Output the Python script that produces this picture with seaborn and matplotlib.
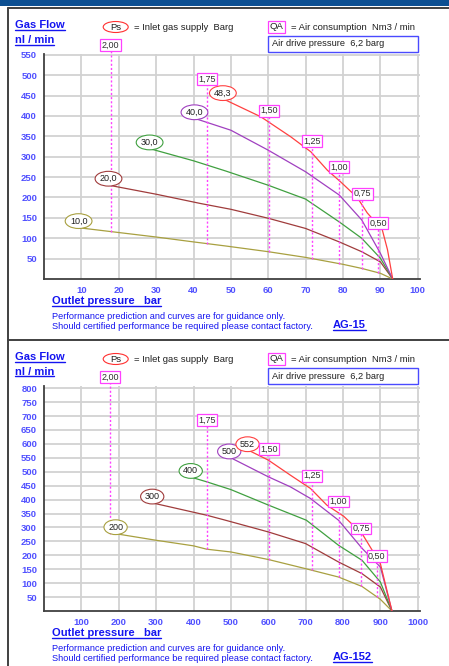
import numpy as np
import pandas as pd
import matplotlib
matplotlib.use("Agg")
import matplotlib.pyplot as plt
from matplotlib.lines import Line2D
from matplotlib.patches import Rectangle, Ellipse
import seaborn as sns

W, H = 449, 666

# curve colours, lowest inlet pressure first
curve_colors = ["#a8a040", "#a03c3c", "#40a040", "#a040c0", "#ff4040"]

# AG-15 : outlet pressure (bar) vs gas flow (nl/min), one curve per Ps
ag15_ps = ["10,0", "20,0", "30,0", "40,0", "48,3"]
ag15_x = [
    [10, 20, 30, 40, 48.6, 60, 70, 80, 85, 90, 93.3],
    [18, 30, 42, 50, 60, 70, 79, 85, 90, 93.3],
    [29, 40, 48.6, 60, 70, 79, 85, 90, 93.3],
    [41, 50, 60, 70, 79, 85, 90, 93.3],
    [48.6, 58, 66, 71.4, 75.8, 79.4, 83.8, 86.5, 90.5, 91.9, 93.3],
]
ag15_y = [
    [125, 114, 103, 91, 81, 67, 53, 36, 26, 14, 0],
    [229, 208, 185, 171, 149, 124, 91, 67, 42, 0],
    [318, 290, 265, 230, 196, 140, 100, 51, 0],
    [392, 365, 316, 263, 206, 145, 63, 0],
    [439, 398, 349, 312, 267, 238, 200, 162, 121, 72, 0],
]
ag15_qa = ["2,00", "1,75", "1,50", "1,25", "1,00", "0,75", "0,50"]
ag15_qa_x = [17.8, 43.7, 60.2, 71.7, 79.0, 85.2, 89.4]
ag15_qa_y = [574, 491, 413, 339, 274, 209, 137]

# AG-152 : outlet pressure (bar) vs gas flow (nl/min)
ag152_ps = ["200", "300", "400", "500", "552"]
ag152_x = [
    [199, 300, 400, 435, 500, 600, 700, 788, 851, 900, 931],
    [297, 435, 480, 600, 700, 788, 851, 900, 931],
    [400, 435, 500, 601, 702, 788, 851, 900, 931],
    [503, 600, 659, 713, 788, 851, 900, 931],
    [552, 600, 659, 713, 757, 802, 851, 900, 931],
]
ag152_y = [
    [276, 254, 234, 222, 212, 185, 152, 122, 88, 42, 0],
    [386, 344, 328, 284, 242, 176, 134, 86, 0],
    [478, 464, 436, 380, 326, 236, 182, 104, 0],
    [548, 482, 446, 404, 326, 225, 158, 0],
    [574, 542, 488, 440, 380, 340, 278, 170, 0],
]
ag152_qa = ["2,00", "1,75", "1,50", "1,25", "1,00", "0,75", "0,50"]
ag152_qa_x = [177, 436, 601, 716, 788, 849, 890]
ag152_qa_y = [840, 685, 582, 486, 393, 296, 198]

sns.set_style("white")
plt.rcParams["font.family"] = ["Liberation Sans", "DejaVu Sans"]

BLUE = "#1414f0"
TICK_BLUE = "#5050ff"
MAGENTA = "#ff40ff"

fig = plt.figure(figsize=(W / 100, H / 100), dpi=100)


def fx(px):
    return px / W


def fy(py):
    return 1 - py / H


underlined = []


def draw_panel(top, ps, xs, ys, qa, qa_x, qa_y, xmax, ymax, xstep, ystep, model):
    dy = top - 54
    ax = fig.add_axes([fx(44), fy(top + 225), 376 / W, 225 / H])

    rows = []
    for label, cx, cy in zip(ps, xs, ys):
        for a, b in zip(cx, cy):
            rows.append({"outlet": a, "flow": b, "ps": label})
    df = pd.DataFrame(rows)

    sns.lineplot(
        data=df, x="outlet", y="flow", hue="ps",
        palette=dict(zip(ps, curve_colors)),
        sort=False, estimator=None, legend=False, linewidth=0.9, ax=ax, zorder=3,
    )

    ax.set_xlim(0, xmax)
    ax.set_ylim(0, ymax)
    ax.set_xticks(np.arange(xstep, xmax, xstep))
    ax.set_yticks(np.arange(ystep, ymax, ystep))
    ax.set_xlabel("")
    ax.set_ylabel("")
    ax.grid(True, color="#d2d2d2", linewidth=1.3)
    ax.set_axisbelow(True)
    for s in ["top", "right"]:
        ax.spines[s].set_visible(False)
    for s in ["left", "bottom"]:
        ax.spines[s].set_color("#404040")
        ax.spines[s].set_linewidth(1.3)
    ax.tick_params(axis="both", direction="out", length=3, width=0.8,
                   color="#404040", labelsize=6.8, labelcolor=TICK_BLUE, pad=2)
    for t in ax.get_xticklabels() + ax.get_yticklabels():
        t.set_fontweight("bold")

    # inlet pressure labels at the start of each curve
    for label, cx, cy, c in zip(ps, xs, ys, curve_colors):
        ax.annotate(label, (cx[0], cy[0]), xytext=(-2, 5), textcoords="offset points",
                    ha="center", va="center", fontsize=6.5, color="#202020", zorder=6,
                    bbox=dict(boxstyle="ellipse,pad=0.08", fc="white", ec=c, lw=0.8))

    # air consumption lines, dotted down to the lowest curve
    low_x, low_y = xs[0], ys[0]
    for label, qx, qy in zip(qa, qa_x, qa_y):
        bottom = np.interp(qx, low_x, low_y)
        ax.plot([qx, qx], [bottom, qy], color=MAGENTA, lw=1.0,
                ls=(0, (1.5, 1.5)), clip_on=False, zorder=4)
        ax.annotate(label, (qx, qy), ha="center", va="center", fontsize=6.5,
                    color="#303030", zorder=7, annotation_clip=False,
                    bbox=dict(boxstyle="square,pad=0.15", fc="white", ec=MAGENTA, lw=0.9))

    # header
    t1 = fig.text(fx(15), fy(25 + dy), "Gas Flow", fontsize=8, fontweight="bold",
                  color=BLUE, va="center")
    t2 = fig.text(fx(15), fy(40 + dy), "nl / min", fontsize=8, fontweight="bold",
                  color=BLUE, va="center")
    fig.add_artist(Ellipse((fx(115.7), fy(27 + dy)), 25 / W, 11 / H,
                           transform=fig.transFigure, fc="white", ec="#ff3030", lw=0.8))
    fig.text(fx(115.7), fy(27.5 + dy), "Ps", fontsize=6.8, color="#202020",
             ha="center", va="center")
    fig.text(fx(134), fy(27 + dy), "= Inlet gas supply  Barg", fontsize=6.8,
             color="#202020", va="center")
    fig.text(fx(276.7), fy(26.7 + dy), "QA", fontsize=6.8, color="#202020",
             ha="center", va="center",
             bbox=dict(boxstyle="square,pad=0.15", fc="white", ec=MAGENTA, lw=0.9))
    fig.text(fx(291), fy(27 + dy), "= Air consumption  Nm3 / min", fontsize=6.8,
             color="#202020", va="center")
    fig.add_artist(Rectangle((fx(267.7), fy(52.3 + dy)), (418.3 - 267.7) / W, 16.3 / H,
                             transform=fig.transFigure, fc="white", ec="#4a4aff", lw=1.0))
    fig.text(fx(272), fy(44 + dy), "Air drive pressure  6,2 barg", fontsize=6.7,
             color="#202020", va="center")

    # footer
    t3 = fig.text(fx(51.7), fy(301.5 + dy), "Outlet pressure   bar", fontsize=8,
                  fontweight="bold", color=BLUE, va="center")
    fig.text(fx(51.7), fy(316.5 + dy),
             "Performance prediction and curves are for guidance only.",
             fontsize=6.6, color=BLUE, va="center")
    fig.text(fx(51.7), fy(326.5 + dy),
             "Should certified performance be required please contact factory.",
             fontsize=6.6, color=BLUE, va="center")
    t4 = fig.text(fx(333), fy(325 + dy), model, fontsize=8, fontweight="bold",
                  color=BLUE, va="center")
    underlined.extend([t1, t2, t3, t4])
    return ax


draw_panel(54, ag15_ps, ag15_x, ag15_y, ag15_qa, ag15_qa_x, ag15_qa_y,
           100.6, 552, 10, 50, "AG-15")
draw_panel(386, ag152_ps, ag152_x, ag152_y, ag152_qa, ag152_qa_x, ag152_qa_y,
           1006, 808, 100, 50, "AG-152")

# window frame
fig.add_artist(Rectangle((0, fy(6)), 1, 6 / H, transform=fig.transFigure,
                         fc="#0c4f92", ec="none"))
for (x0, y0, x1, y1) in [(8, 8, 449, 8), (8, 8, 8, 666), (8, 340, 449, 340)]:
    fig.add_artist(Line2D([fx(x0), fx(x1)], [fy(y0), fy(y1)], color="#404040",
                          lw=1.4, transform=fig.transFigure))

# underline the blue headings
fig.canvas.draw()
renderer = fig.canvas.get_renderer()
for t in underlined:
    bb = t.get_window_extent(renderer)
    yline = (bb.y0 + 0.5) / H
    fig.add_artist(Line2D([bb.x0 / W, bb.x1 / W], [yline, yline], color=BLUE,
                          lw=1.0, transform=fig.transFigure))

fig.savefig("out.png", dpi=100)
